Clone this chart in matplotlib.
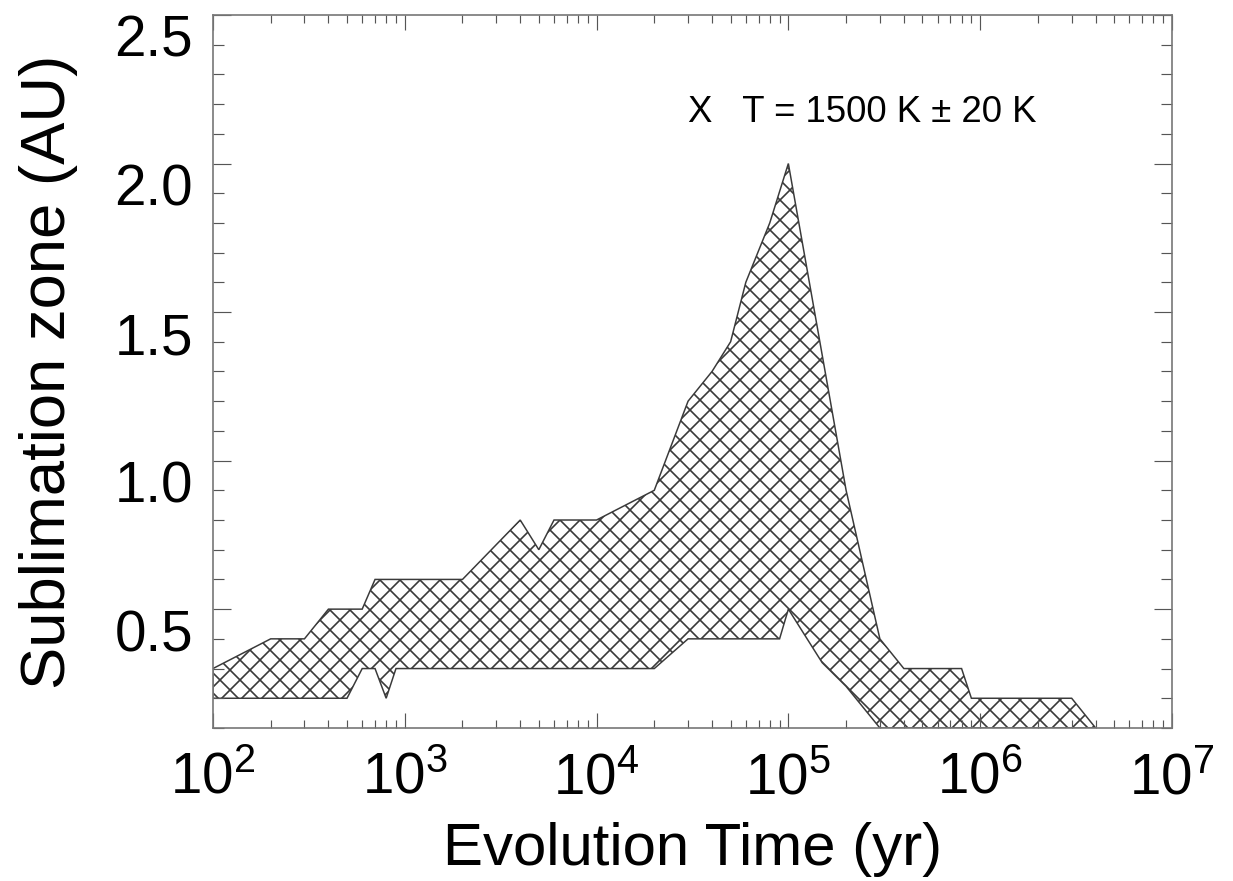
import numpy as np
import matplotlib
matplotlib.use("Agg")
import matplotlib.pyplot as plt
from matplotlib.ticker import LogLocator, MultipleLocator, FormatStrFormatter

# Upper edge of the sublimation zone (T = 1500 K - 20 K side)
upper_time = [1e2, 2e2, 3e2, 4e2, 6e2, 7e2, 2e3, 4e3, 5e3, 6e3, 1e4, 2e4,
              3e4, 4e4, 5e4, 6e4, 8e4, 1e5, 2e5, 3e5, 4e5, 8e5, 9e5, 3e6, 4e6]
upper_au = [0.3, 0.4, 0.4, 0.5, 0.5, 0.6, 0.6, 0.8, 0.7, 0.8, 0.8, 0.9,
            1.2, 1.3, 1.4, 1.6, 1.8, 2.0, 0.9, 0.4, 0.3, 0.3, 0.2, 0.2, 0.1]

# Lower edge of the sublimation zone (T = 1500 K + 20 K side)
lower_time = [1e2, 5e2, 6e2, 7e2, 8e2, 9e2, 2e4, 3e4, 9e4, 1e5, 1.5e5, 2e5,
              3e5, 4e6]
lower_au = [0.2, 0.2, 0.3, 0.3, 0.2, 0.3, 0.3, 0.4, 0.4, 0.5, 0.32, 0.24,
            0.1, 0.1]

x_range = (1e2, 1e7)
y_range = (0.1, 2.5)
label_text = "X   T = 1500 K \u00b1 20 K"


def make_plot():
    plt.rcParams['font.family'] = ['Liberation Sans', 'DejaVu Sans']
    plt.rcParams['mathtext.fontset'] = 'custom'
    plt.rcParams['mathtext.rm'] = 'Liberation Sans'
    plt.rcParams['mathtext.it'] = 'Liberation Sans'
    plt.rcParams['mathtext.default'] = 'regular'
    plt.rcParams['hatch.linewidth'] = 1.0

    fig = plt.figure(figsize=(1233 / 120, 881 / 120), dpi=120)
    ax = fig.add_axes([0.1727, 0.1737, 0.7778, 0.8093])

    # closed outline: upper edge left->right, lower edge right->left
    poly_x = np.concatenate([upper_time, lower_time[::-1]])
    poly_y = np.concatenate([upper_au, lower_au[::-1]])
    ax.fill(poly_x, poly_y, facecolor='none', edgecolor='#3a3a3a',
            hatch='xx', linewidth=0.9)

    ax.set_xscale('log')
    ax.set_xlim(*x_range)
    ax.set_ylim(*y_range)

    ax.xaxis.set_major_locator(LogLocator(base=10, numticks=10))
    ax.xaxis.set_minor_locator(LogLocator(base=10, subs=np.arange(2, 10), numticks=20))
    ax.yaxis.set_major_locator(MultipleLocator(0.5))
    ax.yaxis.set_minor_locator(MultipleLocator(0.1))
    ax.yaxis.set_major_formatter(FormatStrFormatter('%.1f'))

    # IDL-like ticks: inward, on every side
    ax.tick_params(which='both', direction='in', top=True, right=True,
                   color='#555555', width=0.7)
    ax.tick_params(axis='x', which='major', length=9, labelsize=34, pad=14)
    ax.tick_params(axis='x', which='minor', length=5)
    ax.tick_params(axis='y', which='major', length=11, labelsize=34, pad=12)
    ax.tick_params(axis='y', which='minor', length=6.5)
    for s in ax.spines.values():
        s.set_color('#777777')
        s.set_linewidth(1.0)

    # y labels hang below their tick, as in the original
    for lab in ax.get_yticklabels():
        lab.set_verticalalignment('top')

    ax.set_xlabel('Evolution Time (yr)', fontsize=36, labelpad=10)
    ax.set_ylabel('Sublimation zone (AU)', fontsize=38, labelpad=22)

    ax.text(3.0e4, 2.14, label_text, fontsize=22, va='baseline', ha='left')

    fig.savefig('out.png', dpi=120)


if __name__ == "__main__":
    make_plot()
